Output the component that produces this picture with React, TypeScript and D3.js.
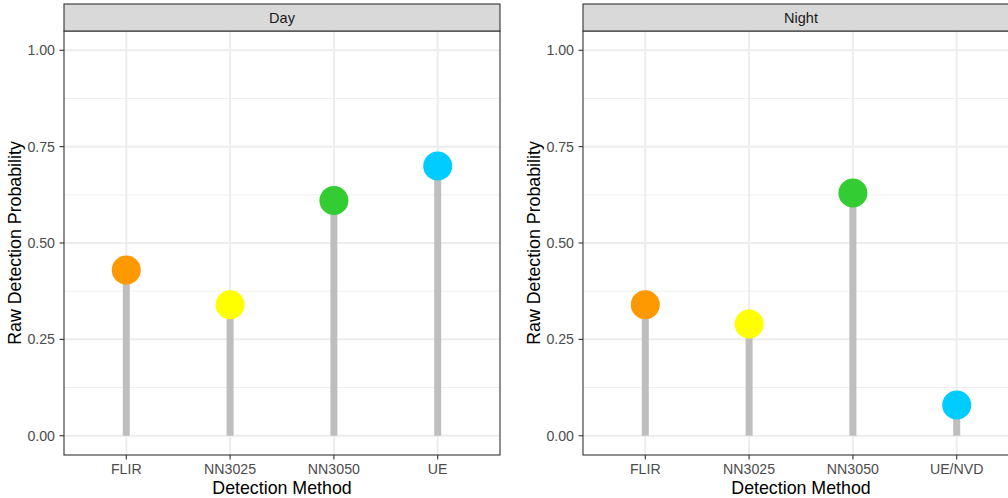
import React, { useEffect, useRef } from 'react';
import * as d3 from 'd3';

// facet labels
const facets = ['Day', 'Night'];

// categories per facet
const dayMethods = ['FLIR', 'NN3025', 'NN3050', 'UE'];
const nightMethods = ['FLIR', 'NN3025', 'NN3050', 'UE/NVD'];

// raw detection probabilities
const dayValues = [0.43, 0.34, 0.61, 0.70];
const nightValues = [0.34, 0.29, 0.63, 0.08];

const yTicks = [0, 0.25, 0.5, 0.75, 1];
const yMinor = [0.125, 0.375, 0.625, 0.875];
const pointColors = ['#FF9900', '#FFFF00', '#33CC33', '#00CCFF'];

export default function App() {
  const ref = useRef<SVGSVGElement>(null);

  useEffect(() => {
    const svg = d3.select(ref.current);
    svg.selectAll('*').remove();

    const font = 'Liberation Sans, Arial, sans-serif';
    const panelW = 436,
      top = 31,
      bottom = 455,
      stripTop = 4;
    const panelLefts = [64, 583];
    const panels = [
      { name: facets[0], cats: dayMethods, vals: dayValues },
      { name: facets[1], cats: nightMethods, vals: nightValues },
    ];

    const yScale = d3.scaleLinear().domain([-0.05, 1.05]).range([bottom, top]);

    panels.forEach(function (p, pi) {
      const left = panelLefts[pi];
      const g = svg.append('g');

      const xScale = d3
        .scalePoint<string>()
        .domain(p.cats)
        .range([left, left + panelW])
        .padding(0.6);

      // background
      g.append('rect')
        .attr('x', left).attr('y', top)
        .attr('width', panelW).attr('height', bottom - top)
        .attr('fill', '#fff');

      // minor grid
      g.selectAll('.minor')
        .data(yMinor)
        .enter()
        .append('line')
        .attr('x1', left).attr('x2', left + panelW)
        .attr('y1', (d) => yScale(d)).attr('y2', (d) => yScale(d))
        .attr('stroke', '#F0F0F0').attr('stroke-width', 1);

      // major grid
      g.selectAll('.major')
        .data(yTicks)
        .enter()
        .append('line')
        .attr('x1', left).attr('x2', left + panelW)
        .attr('y1', (d) => yScale(d)).attr('y2', (d) => yScale(d))
        .attr('stroke', '#EDEDED').attr('stroke-width', 2);

      g.selectAll('.vgrid')
        .data(p.cats)
        .enter()
        .append('line')
        .attr('x1', (d) => xScale(d) as number).attr('x2', (d) => xScale(d) as number)
        .attr('y1', top).attr('y2', bottom)
        .attr('stroke', '#EDEDED').attr('stroke-width', 2);

      // lollipop sticks
      g.selectAll('.stick')
        .data(p.vals)
        .enter()
        .append('line')
        .attr('x1', (d, i) => xScale(p.cats[i]) as number)
        .attr('x2', (d, i) => xScale(p.cats[i]) as number)
        .attr('y1', yScale(0))
        .attr('y2', (d) => yScale(d))
        .attr('stroke', '#BEBEBE')
        .attr('stroke-width', 7);

      // dots
      g.selectAll('.dot')
        .data(p.vals)
        .enter()
        .append('circle')
        .attr('cx', (d, i) => xScale(p.cats[i]) as number)
        .attr('cy', (d) => yScale(d))
        .attr('r', 14.5)
        .attr('fill', (d, i) => pointColors[i]);

      // panel border
      g.append('rect')
        .attr('x', left).attr('y', top)
        .attr('width', panelW).attr('height', bottom - top)
        .attr('fill', 'none').attr('stroke', '#333').attr('stroke-width', 1.1);

      // strip
      g.append('rect')
        .attr('x', left).attr('y', stripTop)
        .attr('width', panelW).attr('height', top - stripTop)
        .attr('fill', '#D9D9D9').attr('stroke', '#333').attr('stroke-width', 1.1);
      g.append('text')
        .attr('x', left + panelW / 2).attr('y', (stripTop + top) / 2)
        .attr('text-anchor', 'middle').attr('dominant-baseline', 'central')
        .attr('font-family', font).attr('font-size', 14.5)
        .attr('fill', '#1A1A1A')
        .text(p.name);

      // y axis
      const yAxis = g.append('g');
      yTicks.forEach(function (t) {
        yAxis.append('line')
          .attr('x1', left - 4.5).attr('x2', left)
          .attr('y1', yScale(t)).attr('y2', yScale(t))
          .attr('stroke', '#333').attr('stroke-width', 1.1);
        yAxis.append('text')
          .attr('x', left - 9).attr('y', yScale(t))
          .attr('text-anchor', 'end').attr('dominant-baseline', 'central')
          .attr('font-family', font).attr('font-size', 14.2)
          .attr('fill', '#4D4D4D')
          .text(d3.format('.2f')(t));
      });

      // x axis
      const xAxis = g.append('g');
      p.cats.forEach(function (c) {
        const x = xScale(c) as number;
        xAxis.append('line')
          .attr('x1', x).attr('x2', x)
          .attr('y1', bottom).attr('y2', bottom + 4.5)
          .attr('stroke', '#333').attr('stroke-width', 1.1);
        xAxis.append('text')
          .attr('x', x).attr('y', bottom + 14)
          .attr('text-anchor', 'middle').attr('dominant-baseline', 'central')
          .attr('font-family', font).attr('font-size', 14.2)
          .attr('fill', '#4D4D4D')
          .text(c);
      });

      // axis titles
      g.append('text')
        .attr('x', left + panelW / 2).attr('y', 488)
        .attr('text-anchor', 'middle').attr('dominant-baseline', 'central')
        .attr('font-family', font).attr('font-size', 17.8)
        .attr('fill', '#000')
        .text('Detection Method');
      g.append('text')
        .attr('transform', 'translate(' + (left - 49) + ',' + (top + bottom) / 2 + ') rotate(-90)')
        .attr('text-anchor', 'middle').attr('dominant-baseline', 'central')
        .attr('font-family', font).attr('font-size', 17.8)
        .attr('fill', '#000')
        .text('Raw Detection Probability');
    });
  }, []);

  return (
    <div style={{ position: 'fixed', left: 0, top: 0, width: 1008, height: 498, overflow: 'hidden', background: '#fff' }}>
      <svg ref={ref} width={1040} height={498} style={{ display: 'block' }} />
    </div>
  );
}
